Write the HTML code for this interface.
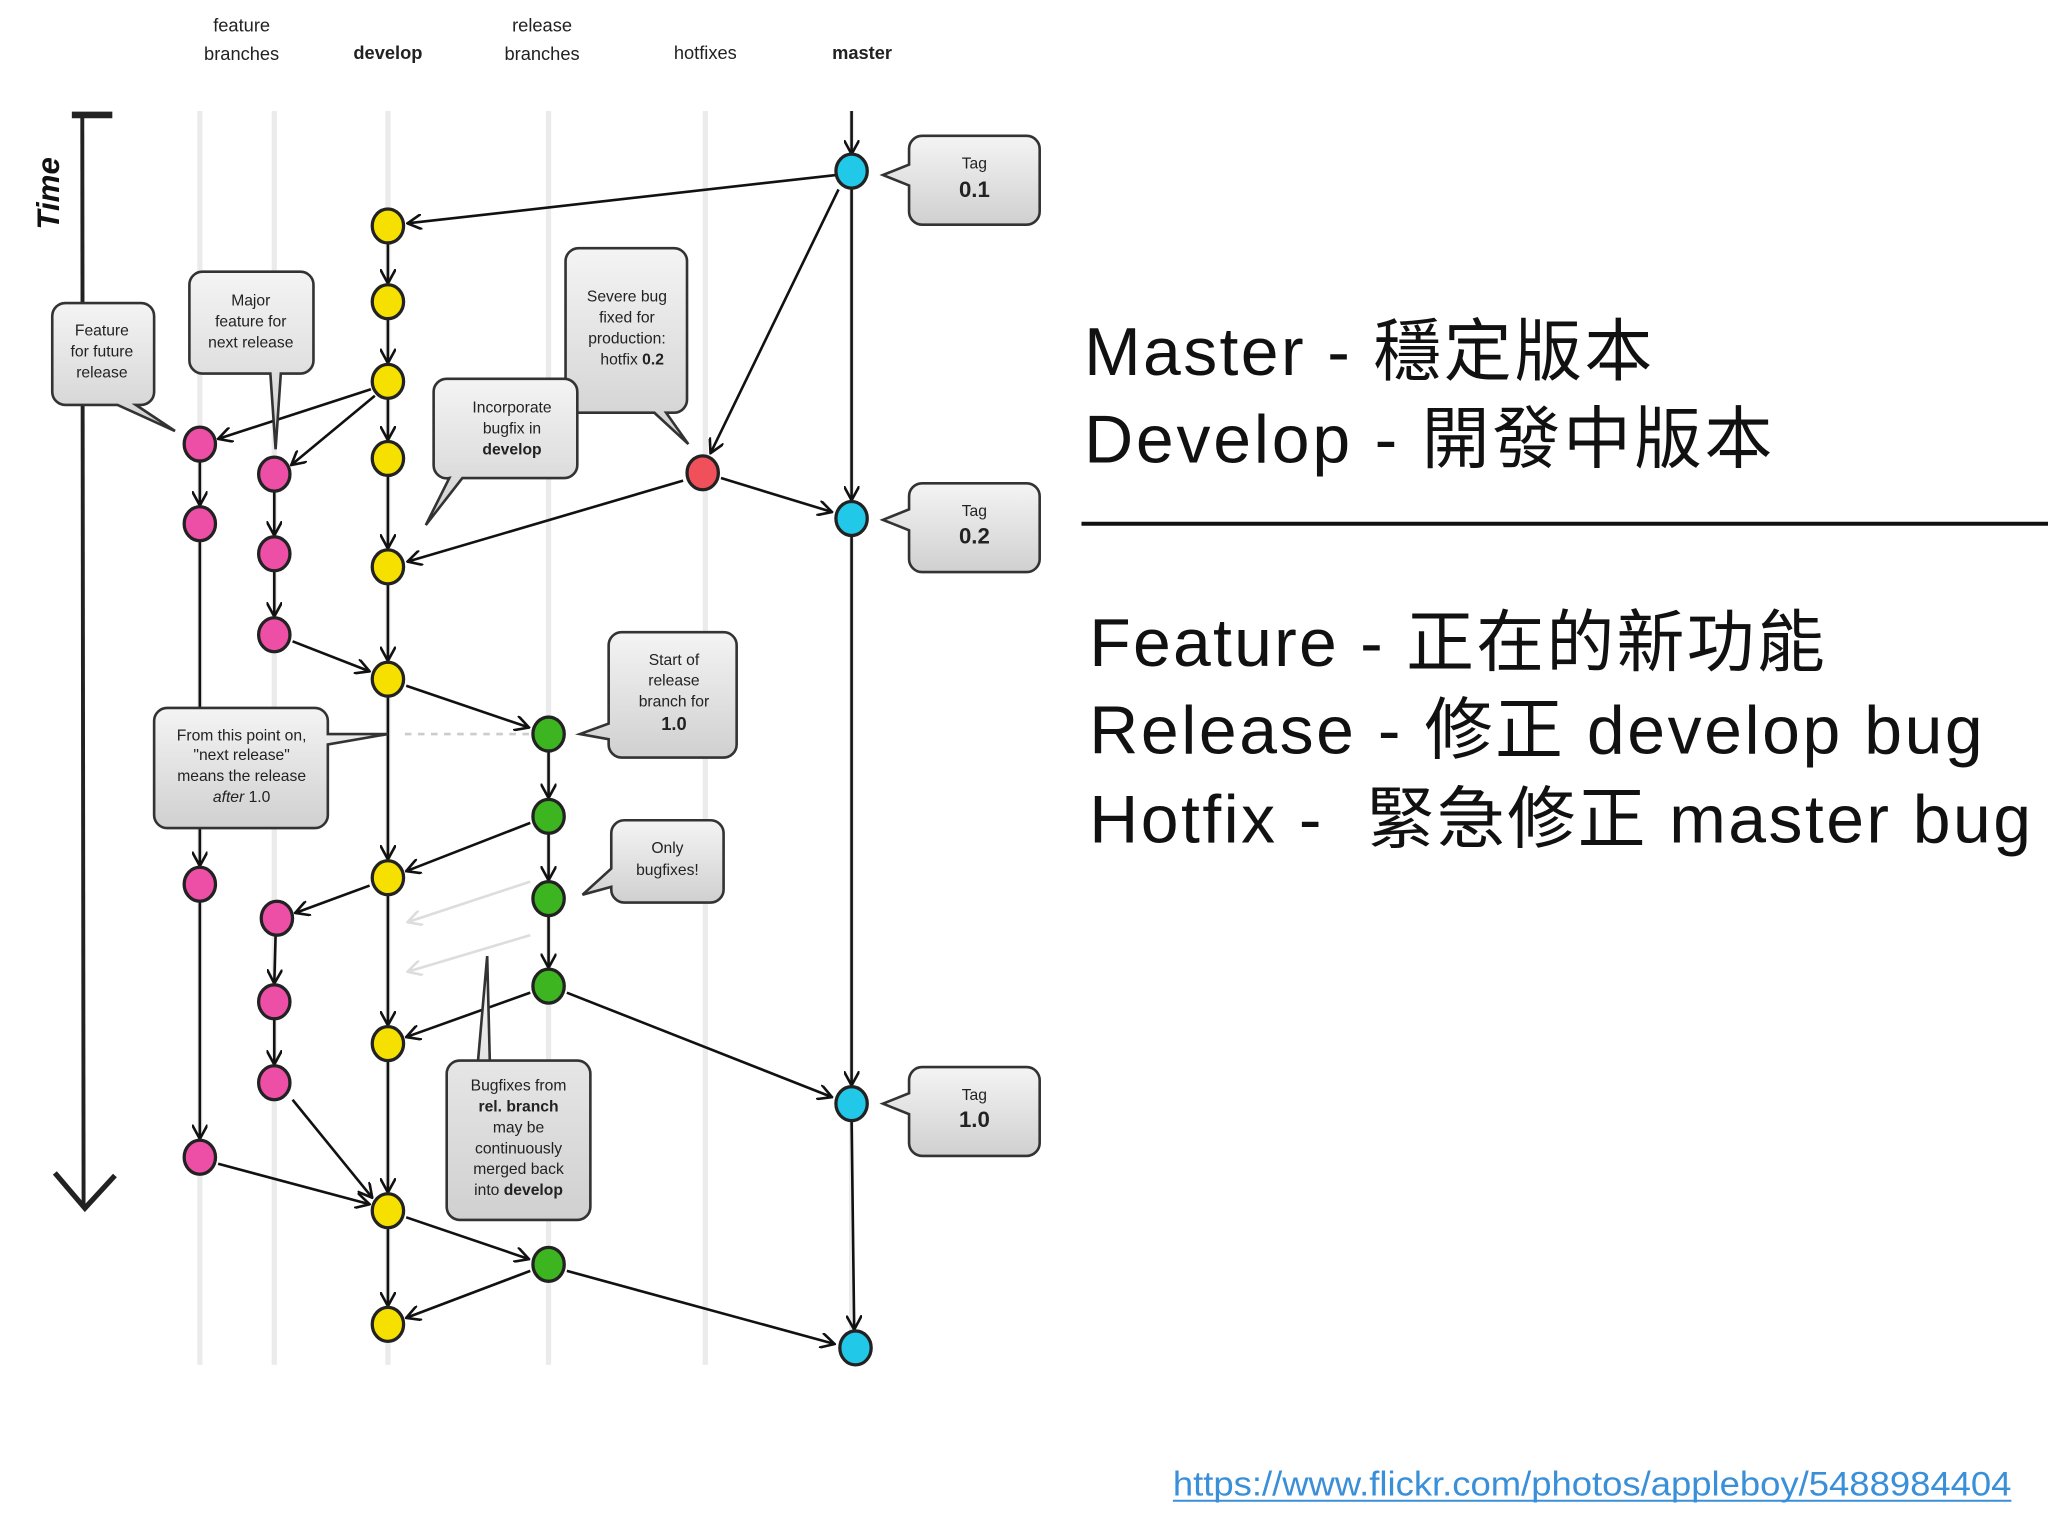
<!DOCTYPE html>
<html><head><meta charset="utf-8"><style>
html,body{margin:0;padding:0;background:#fff;}
svg{display:block}
.s{font-family:"Liberation Sans",sans-serif;font-size:12px;fill:#222;text-anchor:middle}
.h{font-family:"Liberation Sans",sans-serif;font-size:14px;fill:#222;text-anchor:middle}
.big{font-family:"Liberation Sans","Noto Sans CJK TC",sans-serif;font-size:52px;fill:#111}
</style></head><body>
<svg width="2048" height="1536" viewBox="0 0 1568 1176" xmlns="http://www.w3.org/2000/svg">
<defs>
<linearGradient id="g" x1="0" y1="0" x2="0" y2="1"><stop offset="0" stop-color="#f4f4f4"/><stop offset="1" stop-color="#d0d0d0"/></linearGradient>
<marker id="a" viewBox="0 0 12 12" refX="11" refY="6" markerWidth="12" markerHeight="12" markerUnits="userSpaceOnUse" orient="auto"><path d="M0,0 L11,6 L0,12" fill="none" stroke="#111" stroke-width="2"/></marker>
<marker id="af" viewBox="0 0 12 12" refX="11" refY="6" markerWidth="12" markerHeight="12" markerUnits="userSpaceOnUse" orient="auto"><path d="M0,0 L11,6 L0,12" fill="none" stroke="#ddd" stroke-width="2"/></marker>
</defs>
<text class="h" x="185" y="24">feature</text><text class="h" x="185" y="46">branches</text>
<text class="h" x="297" y="45" font-weight="bold">develop</text>
<text class="h" x="415" y="24">release</text><text class="h" x="415" y="46">branches</text>
<text class="h" x="540" y="45">hotfixes</text>
<text class="h" x="660" y="45" font-weight="bold">master</text>
<g stroke="#ebebeb" stroke-width="4">
<line x1="153" y1="85" x2="153" y2="1045"/><line x1="210" y1="85" x2="210" y2="1045"/>
<line x1="297" y1="85" x2="297" y2="1045"/><line x1="420" y1="85" x2="420" y2="1045"/>
<line x1="540" y1="85" x2="540" y2="1045"/><line x1="652" y1="85" x2="652" y2="1045"/>
</g>
<line x1="55" y1="88" x2="86" y2="88" stroke="#222" stroke-width="5"/>
<line x1="63" y1="88" x2="64" y2="925" stroke="#222" stroke-width="3"/>
<path d="M42,898 L65,925 L88,900" fill="none" stroke="#222" stroke-width="4"/>
<text x="45" y="148" transform="rotate(-90 45 148)" font-family="Liberation Sans" font-weight="bold" font-style="italic" font-size="24" text-anchor="middle" fill="#111">Time</text>
<g stroke="#111" stroke-width="2" marker-end="url(#a)">
<line x1="652" y1="85" x2="652" y2="118"/>
<line x1="652" y1="144" x2="652" y2="383"/><line x1="652" y1="410" x2="652" y2="831"/><line x1="652" y1="858" x2="654" y2="1018"/>
<line x1="297" y1="186" x2="297" y2="217"/><line x1="297" y1="244" x2="297" y2="278"/><line x1="297" y1="305" x2="297" y2="337"/><line x1="297" y1="364" x2="297" y2="420"/><line x1="297" y1="447" x2="297" y2="506"/><line x1="297" y1="533" x2="297" y2="658"/><line x1="297" y1="685" x2="297" y2="785"/><line x1="297" y1="812" x2="297" y2="913"/><line x1="297" y1="940" x2="297" y2="1000"/>
<line x1="153" y1="353" x2="153" y2="387"/><line x1="153" y1="414" x2="153" y2="663"/><line x1="153" y1="690" x2="153" y2="872"/>
<line x1="210" y1="376" x2="210" y2="410"/><line x1="210" y1="437" x2="210" y2="472"/><line x1="211" y1="716" x2="210" y2="753"/><line x1="210" y1="780" x2="210" y2="815"/>
<line x1="420" y1="575" x2="420" y2="611"/><line x1="420" y1="638" x2="420" y2="674"/><line x1="420" y1="701" x2="420" y2="741"/>
<line x1="640" y1="134" x2="312" y2="171"/>
<line x1="642" y1="145" x2="544" y2="347"/>
<line x1="552" y1="366" x2="637" y2="392"/>
<line x1="523" y1="368" x2="312" y2="430"/>
<line x1="284" y1="298" x2="167" y2="336"/>
<line x1="287" y1="303" x2="223" y2="356"/>
<line x1="224" y1="491" x2="283" y2="514"/>
<line x1="311" y1="525" x2="405" y2="557"/>
<line x1="406" y1="630" x2="311" y2="667"/>
<line x1="283" y1="678" x2="226" y2="699"/>
<line x1="406" y1="760" x2="311" y2="794"/>
<line x1="434" y1="760" x2="637" y2="840"/>
<line x1="224" y1="842" x2="285" y2="917"/>
<line x1="167" y1="891" x2="283" y2="922"/>
<line x1="311" y1="932" x2="405" y2="964"/>
<line x1="406" y1="973" x2="311" y2="1009"/>
<line x1="434" y1="973" x2="639" y2="1029"/>
</g>
<g stroke="#ddd" stroke-width="2" marker-end="url(#af)"><line x1="406" y1="675" x2="312" y2="706"/><line x1="406" y1="716" x2="312" y2="744"/></g>
<line x1="310" y1="562" x2="407" y2="562" stroke="#ccc" stroke-width="2" stroke-dasharray="5,5"/>
<g stroke="#222" stroke-width="2.5">
<g fill="#22c8e8"><ellipse cx="652" cy="131" rx="12" ry="13"/><ellipse cx="652" cy="397" rx="12" ry="13"/><ellipse cx="652" cy="845" rx="12" ry="13"/><ellipse cx="655" cy="1032" rx="12" ry="13"/></g>
<g fill="#f5e000"><ellipse cx="297" cy="173" rx="12" ry="13"/><ellipse cx="297" cy="231" rx="12" ry="13"/><ellipse cx="297" cy="292" rx="12" ry="13"/><ellipse cx="297" cy="351" rx="12" ry="13"/><ellipse cx="297" cy="434" rx="12" ry="13"/><ellipse cx="297" cy="520" rx="12" ry="13"/><ellipse cx="297" cy="672" rx="12" ry="13"/><ellipse cx="297" cy="799" rx="12" ry="13"/><ellipse cx="297" cy="927" rx="12" ry="13"/><ellipse cx="297" cy="1014" rx="12" ry="13"/></g>
<g fill="#ee4fa6"><ellipse cx="153" cy="340" rx="12" ry="13"/><ellipse cx="153" cy="401" rx="12" ry="13"/><ellipse cx="153" cy="677" rx="12" ry="13"/><ellipse cx="153" cy="886" rx="12" ry="13"/><ellipse cx="210" cy="363" rx="12" ry="13"/><ellipse cx="210" cy="424" rx="12" ry="13"/><ellipse cx="210" cy="486" rx="12" ry="13"/><ellipse cx="212" cy="703" rx="12" ry="13"/><ellipse cx="210" cy="767" rx="12" ry="13"/><ellipse cx="210" cy="829" rx="12" ry="13"/></g>
<ellipse cx="538" cy="362" rx="12" ry="13" fill="#f0505a"/>
<g fill="#3cb520"><ellipse cx="420" cy="562" rx="12" ry="13"/><ellipse cx="420" cy="625" rx="12" ry="13"/><ellipse cx="420" cy="688" rx="12" ry="13"/><ellipse cx="420" cy="755" rx="12" ry="13"/><ellipse cx="420" cy="968" rx="12" ry="13"/></g>
</g>
<g fill="url(#g)" stroke="#333" stroke-width="2">
<path d="M50,232 h58 a10,10 0 0 1 10,10 v58 a10,10 0 0 1 -10,10 h-4 l30,20 l-44,-20 h-40 a10,10 0 0 1 -10,-10 v-58 a10,10 0 0 1 10,-10z"/>
<path d="M155,208 h75 a10,10 0 0 1 10,10 v58 a10,10 0 0 1 -10,10 h-15 l-4,58 l-4,-58 h-52 a10,10 0 0 1 -10,-10 v-58 a10,10 0 0 1 10,-10z"/>
<path d="M443,190 h73 a10,10 0 0 1 10,10 v106 a10,10 0 0 1 -10,10 h-6 l17,24 l-26,-24 h-58 a10,10 0 0 1 -10,-10 v-106 a10,10 0 0 1 10,-10z"/>
<path d="M352,290 h80 a10,10 0 0 1 10,10 v56 a10,10 0 0 1 -10,10 h-78 l-28,36 l18,-36 a10,10 0 0 1 -12,-10 v-56 a10,10 0 0 1 10,-10z"/>
<path d="M706,104 h80 a10,10 0 0 1 10,10 v48 a10,10 0 0 1 -10,10 h-80 a10,10 0 0 1 -10,-10 v-20 l-20,-8 l20,-8 v-12 a10,10 0 0 1 10,-10z"/>
<path d="M706,370 h80 a10,10 0 0 1 10,10 v48 a10,10 0 0 1 -10,10 h-80 a10,10 0 0 1 -10,-10 v-22 l-20,-8 l20,-8 v-10 a10,10 0 0 1 10,-10z"/>
<path d="M706,817 h80 a10,10 0 0 1 10,10 v48 a10,10 0 0 1 -10,10 h-80 a10,10 0 0 1 -10,-10 v-22 l-20,-8 l20,-8 v-10 a10,10 0 0 1 10,-10z"/>
<path d="M476,484 h78 a10,10 0 0 1 10,10 v76 a10,10 0 0 1 -10,10 h-78 a10,10 0 0 1 -10,-10 v-4 l-22,-4 l22,-8 v-60 a10,10 0 0 1 10,-10z"/>
<path d="M478,628 h66 a10,10 0 0 1 10,10 v43 a10,10 0 0 1 -10,10 h-66 a10,10 0 0 1 -10,-10 v-2 l-22,6 l22,-20 v-27 a10,10 0 0 1 10,-10z"/>
<path d="M128,542 h113 a10,10 0 0 1 10,10 v10 l46,0 l-46,8 v54 a10,10 0 0 1 -10,10 h-113 a10,10 0 0 1 -10,-10 v-72 a10,10 0 0 1 10,-10z"/>
<path d="M352,812 h90 a10,10 0 0 1 10,10 v102 a10,10 0 0 1 -10,10 h-90 a10,10 0 0 1 -10,-10 v-102 a10,10 0 0 1 10,-10 h14 l7,-80 l2,80z"/>
</g>
<g>
<text class="s" x="78" y="257">Feature</text><text class="s" x="78" y="273">for future</text><text class="s" x="78" y="289">release</text>
<text class="s" x="192" y="234">Major</text><text class="s" x="192" y="250">feature for</text><text class="s" x="192" y="266">next release</text>
<text class="s" x="480" y="231">Severe bug</text><text class="s" x="480" y="247">fixed for</text><text class="s" x="480" y="263">production:</text><text class="s" x="484" y="279">hotfix <tspan font-weight="bold">0.2</tspan></text>
<text class="s" x="392" y="316">Incorporate</text><text class="s" x="392" y="332">bugfix in</text><text class="s" x="392" y="348" font-weight="bold">develop</text>
<text class="s" x="746" y="129">Tag</text><text class="s" x="746" y="151" font-weight="bold" style="font-size:17px">0.1</text>
<text class="s" x="746" y="395">Tag</text><text class="s" x="746" y="416" font-weight="bold" style="font-size:17px">0.2</text>
<text class="s" x="746" y="842">Tag</text><text class="s" x="746" y="863" font-weight="bold" style="font-size:17px">1.0</text>
<text class="s" x="516" y="509">Start of</text><text class="s" x="516" y="525">release</text><text class="s" x="516" y="541">branch for</text><text class="s" x="516" y="559" font-weight="bold" style="font-size:14px">1.0</text>
<text class="s" x="511" y="653">Only</text><text class="s" x="511" y="670">bugfixes!</text>
<text class="s" x="185" y="567">From this point on,</text><text class="s" x="185" y="582">"next release"</text><text class="s" x="185" y="598">means the release</text><text class="s" x="185" y="614"><tspan font-style="italic">after</tspan> 1.0</text>
<text class="s" x="397" y="835">Bugfixes from</text><text class="s" x="397" y="851" font-weight="bold">rel. branch</text><text class="s" x="397" y="867">may be</text><text class="s" x="397" y="883">continuously</text><text class="s" x="397" y="899">merged back</text><text class="s" x="397" y="915">into <tspan font-weight="bold">develop</tspan></text>
</g>
<text class="big" x="830" y="287" textLength="435" lengthAdjust="spacing">Master - 穩定版本</text>
<text class="big" x="830" y="354" textLength="527" lengthAdjust="spacing">Develop - 開發中版本</text>
<line x1="828" y1="401" x2="1568" y2="401" stroke="#111" stroke-width="3"/>
<text class="big" x="834" y="510" textLength="563" lengthAdjust="spacing">Feature - 正在的新功能</text>
<text class="big" x="834" y="577" textLength="684" lengthAdjust="spacing">Release - 修正 develop bug</text>
<text class="big" x="834" y="645" textLength="721" lengthAdjust="spacing" xml:space="preserve">Hotfix -  緊急修正 master bug</text>
<text x="898" y="1145" textLength="642" lengthAdjust="spacingAndGlyphs" font-family="Liberation Sans" font-size="26" fill="#3a8fd9">https://www.flickr.com/photos/appleboy/5488984404</text>
<line x1="898" y1="1149" x2="1540" y2="1149" stroke="#3a8fd9" stroke-width="1.5"/>
</svg>
</body></html>
